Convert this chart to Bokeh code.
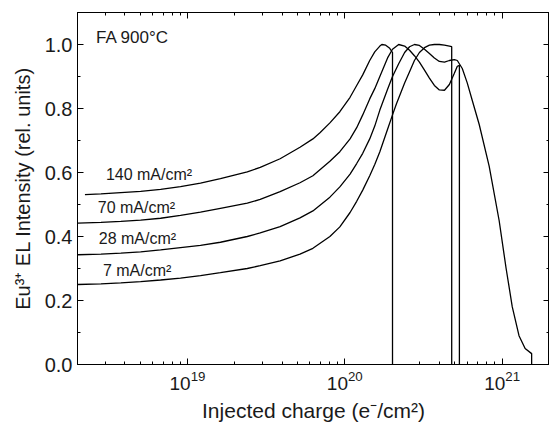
from bokeh.plotting import figure
from bokeh.models import (LinearAxis, LogAxis, Range1d, Label, FixedTicker,
                          LogTickFormatter, PrintfTickFormatter)
from bokeh.embed import file_html
from bokeh.resources import INLINE

# ---------------- data ----------------
charge_140 = [2.23e18, 2.82e18, 3.77e18, 5.04e18, 6.75e18, 9.03e18, 1.21e19, 1.62e19,
              2.40e19, 2.90e19, 3.88e19, 5.19e19, 6.27e19, 6.95e19, 8.04e19, 9.30e19,
              1.08e20, 1.19e20, 1.30e20, 1.44e20, 1.55e20, 1.67e20, 1.72e20, 1.82e20,
              1.93e20, 2.01e20, 2.01e20]
el_140 = [0.531, 0.533, 0.537, 0.541, 0.547, 0.556, 0.567, 0.581,
          0.602, 0.616, 0.643, 0.679, 0.705, 0.724, 0.755, 0.790,
          0.835, 0.872, 0.905, 0.950, 0.977, 0.995, 1.000, 0.998,
          0.988, 0.975, 0.0]

charge_70 = [2.01e18, 2.82e18, 3.77e18, 5.04e18, 6.75e18, 9.03e18, 1.21e19, 1.62e19,
             2.40e19, 2.90e19, 3.88e19, 5.19e19, 6.27e19, 8.04e19, 9.30e19, 1.08e20,
             1.19e20, 1.30e20, 1.44e20, 1.55e20, 1.67e20, 1.87e20, 2.01e20, 2.20e20,
             2.40e20, 2.58e20, 2.77e20, 2.98e20, 3.21e20, 3.45e20, 3.71e20, 3.99e20,
             4.30e20, 4.62e20, 4.97e20, 5.19e20, 5.35e20, 5.35e20]
el_70 = [0.442, 0.444, 0.447, 0.451, 0.457, 0.466, 0.476, 0.488,
         0.504, 0.516, 0.540, 0.568, 0.590, 0.635, 0.665, 0.705,
         0.740, 0.780, 0.830, 0.862, 0.900, 0.958, 0.985, 1.000,
         0.995, 0.982, 0.965, 0.945, 0.920, 0.895, 0.872, 0.858,
         0.857, 0.875, 0.910, 0.932, 0.935, 0.0]

charge_28 = [2.01e18, 2.82e18, 3.77e18, 5.04e18, 6.75e18, 9.03e18, 1.21e19, 1.62e19,
             2.40e19, 2.90e19, 3.88e19, 5.19e19, 6.27e19, 8.04e19, 9.30e19, 1.08e20,
             1.19e20, 1.30e20, 1.44e20, 1.55e20, 1.67e20, 1.87e20, 2.01e20, 2.20e20,
             2.40e20, 2.58e20, 2.77e20, 2.98e20, 3.21e20, 3.45e20, 3.71e20, 3.99e20,
             4.30e20, 4.62e20, 4.97e20, 5.19e20, 5.58e20, 6.00e20, 6.46e20, 7.15e20,
             8.27e20, 9.57e20, 1.06e21, 1.16e21, 1.28e21, 1.40e21, 1.54e21, 1.54e21]
el_28 = [0.343, 0.345, 0.348, 0.352, 0.358, 0.365, 0.372, 0.382,
         0.400, 0.411, 0.431, 0.458, 0.480, 0.523, 0.555, 0.595,
         0.628, 0.660, 0.705, 0.745, 0.795, 0.860, 0.900, 0.940,
         0.975, 0.993, 1.000, 0.997, 0.985, 0.972, 0.958, 0.947,
         0.945, 0.950, 0.953, 0.950, 0.925, 0.880, 0.825, 0.750,
         0.620, 0.450, 0.300, 0.180, 0.090, 0.050, 0.034, 0.0]

charge_7 = [2.01e18, 2.82e18, 3.77e18, 5.04e18, 6.75e18, 9.03e18, 1.21e19, 1.62e19,
            2.40e19, 2.90e19, 3.88e19, 5.19e19, 6.27e19, 8.04e19, 9.30e19, 1.08e20,
            1.19e20, 1.30e20, 1.44e20, 1.55e20, 1.67e20, 1.87e20, 2.01e20, 2.13e20,
            2.40e20, 2.58e20, 2.77e20, 2.98e20, 3.21e20, 3.45e20, 3.71e20, 3.99e20,
            4.30e20, 4.62e20, 4.78e20, 4.78e20]
el_7 = [0.250, 0.252, 0.255, 0.259, 0.264, 0.270, 0.278, 0.287,
        0.300, 0.309, 0.324, 0.345, 0.363, 0.400, 0.430, 0.475,
        0.510, 0.545, 0.590, 0.625, 0.665, 0.735, 0.780, 0.815,
        0.880, 0.915, 0.950, 0.975, 0.990, 0.998, 1.000, 1.000,
        0.998, 0.995, 0.993, 0.0]

series_labels = ["140 mA/cm²", "70 mA/cm²", "28 mA/cm²", "7 mA/cm²"]
label_x = [3.03e18, 2.69e18, 2.73e18, 2.90e18]
label_y = [0.595, 0.492, 0.393, 0.295]
title_text = "FA 900°C"

x_major = [1e19, 1e20, 1e21]
y_major = [0.0, 0.2, 0.4, 0.6, 0.8, 1.0]
y_minor = [0.1, 0.3, 0.5, 0.7, 0.9, 1.1]
x_minor = [m * 10.0 ** e for e in (18, 19, 20, 21) for m in range(2, 10)]

FONT = "Liberation Sans"
TXT = "#1a1a1a"

p = figure(width=549, height=424, x_axis_type="log",
           x_range=Range1d(2e18, 2e21), y_range=Range1d(0, 1.1),
           output_backend="svg", toolbar_location=None,
           min_border_left=77, min_border_top=12, min_border_right=0,
           min_border_bottom=60)
p.grid.visible = False
p.outline_line_color = "black"
p.outline_line_width = 1
p.background_fill_color = "white"
p.border_fill_color = "white"

for xs, ys in ((charge_140, el_140), (charge_70, el_70),
               (charge_28, el_28), (charge_7, el_7)):
    p.line(xs, ys, line_color="black", line_width=1.3)

xt = FixedTicker(ticks=x_major, minor_ticks=x_minor)
yt = FixedTicker(ticks=y_major, minor_ticks=y_minor)

def style(ax, show_labels):
    ax.axis_line_color = "black"
    ax.major_tick_line_color = "black"
    ax.minor_tick_line_color = "black"
    ax.major_tick_in = 6
    ax.major_tick_out = 0
    ax.minor_tick_in = 3
    ax.minor_tick_out = 0
    ax.major_label_text_font = FONT
    ax.major_label_text_color = TXT
    ax.axis_label_text_font = FONT
    ax.axis_label_text_font_style = "normal"
    ax.axis_label_text_color = TXT
    if not show_labels:
        ax.major_label_text_font_size = "1px"
        ax.major_label_text_alpha = 0
        ax.major_label_standoff = 0

xa = p.xaxis[0]
xa.ticker = xt
xa.formatter = LogTickFormatter()
style(xa, True)
xa.major_label_text_font_size = "19px"
xa.major_label_standoff = 6
xa.axis_label = "Injected charge (e⁻/cm²)"
xa.axis_label_text_font_size = "21px"
xa.axis_label_standoff = 6

ya = p.yaxis[0]
ya.ticker = yt
ya.formatter = PrintfTickFormatter(format="%.1f")
style(ya, True)
ya.major_label_text_font_size = "20px"
ya.major_label_standoff = 5
ya.axis_label = "Eu³⁺ EL Intensity (rel. units)"
ya.axis_label_text_font_size = "20px"
ya.axis_label_standoff = 8

top = LogAxis(ticker=FixedTicker(ticks=x_major, minor_ticks=x_minor))
style(top, False)
p.add_layout(top, "above")
right = LinearAxis(ticker=FixedTicker(ticks=y_major, minor_ticks=y_minor))
style(right, False)
p.add_layout(right, "right")

for t, lx, ly in zip(series_labels, label_x, label_y):
    p.add_layout(Label(x=lx, y=ly, text=t, text_font=FONT, text_font_size="16px",
                       text_color=TXT, text_baseline="alphabetic"))
p.add_layout(Label(x=2.62e18, y=1.023, text=title_text, text_font=FONT,
                   text_font_size="17px", text_color=TXT, text_baseline="alphabetic"))

open("out.html", "w").write(file_html(p, INLINE))
